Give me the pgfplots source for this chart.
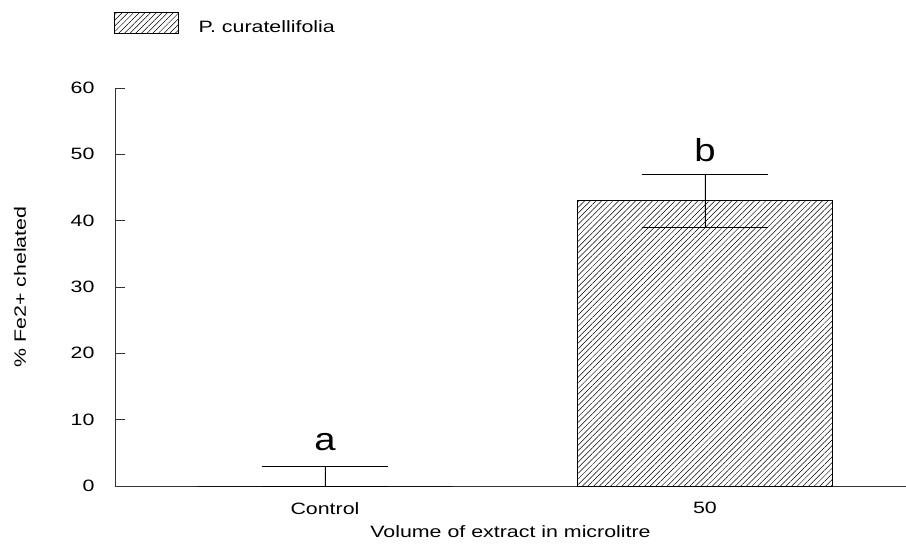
\documentclass[border=0pt]{standalone}
\usepackage{fontspec}
\setmainfont{Liberation Sans}[FakeStretch=1.3]
\newfontfamily\letterfont{Liberation Sans}[FakeStretch=1.2]
\usepackage{pgfplots}
\pgfplotsset{compat=1.18}
\usetikzlibrary{patterns.meta}
\begin{document}
\begin{tikzpicture}
\begin{axis}[
  scale only axis, width=791bp, height=398bp,
  xmin=-0.5526, xmax=1.529, ymin=0, ymax=60,
  axis x line=bottom, axis y line=left,
  axis line style={-, line width=0.8pt, black!80},
  ytick={0,10,...,60}, tick align=inside, major tick length=10bp,
  y tick style={line width=0.8pt, black!80},
  xtick={0,1}, xticklabels={Control,50}, x tick style={draw=none},
  tick label style={font=\fontsize{16.5}{19}\selectfont},
  /pgf/number format/assume math mode=true,
  yticklabel style={anchor=east, xshift=-17bp},
  xticklabel style={anchor=north, yshift=-13bp},
  xlabel={Volume of extract in microlitre},
  ylabel={\% Fe2+ chelated},
  label style={font=\fontsize{16.5}{19}\selectfont},
  xlabel style={at={(axis description cs:0.5,-0.1156)}, anchor=center},
  ylabel style={at={(axis description cs:-0.1201,0.5)}, anchor=center},
  legend style={at={(axis description cs:0,1)}, anchor=south west, yshift=54bp, xshift=-1bp,
    draw=none, fill=none, inner sep=0pt, outer sep=0pt, nodes={inner sep=0pt},
    font=\fontsize{16.5}{19}\selectfont},
]
\addplot[ybar, bar width=0.671, bar shift=0pt, draw=black, line width=0.6pt,
  pattern={Lines[angle=45,distance=4bp,line width=0.5bp]},
  legend image code/.code={
    \draw[pattern={Lines[angle=45,distance=4bp,line width=0.5bp]}, draw=black, line width=0.6pt] (0bp,-6bp) rectangle (64bp,15bp);
    \path (84bp,0bp);
  },
  error bars/.cd, y dir=both, y explicit,
  error bar style={line width=0.8pt, black},
  error mark options={rotate=90, mark size=63bp, line width=0.8pt, black}]
  coordinates {(0,0) += (0,3) -= (0,0) (1,43) +- (0,4)};
\addlegendentry{P. curatellifolia}
\node at (axis cs:0,6.6) {\letterfont\fontsize{32}{36}\selectfont a};
\node at (axis cs:1,50.6) {\letterfont\fontsize{32}{36}\selectfont b};
\end{axis}
\pgfresetboundingbox
\path (-115bp,-62bp) rectangle (791bp,486bp);
\end{tikzpicture}
\end{document}
